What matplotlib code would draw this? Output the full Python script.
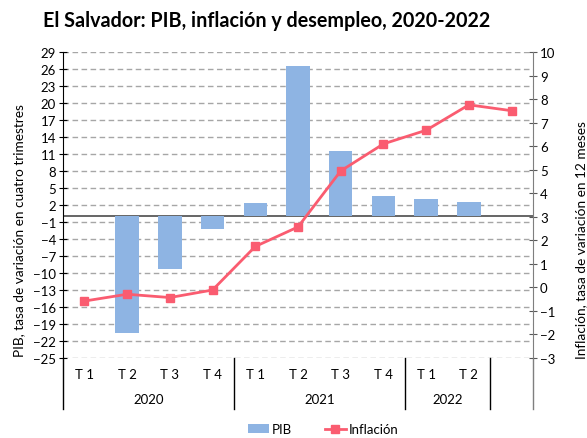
import numpy as np
import matplotlib.pyplot as plt
import matplotlib.transforms as mtransforms

plt.rcParams['font.family'] = ['Lato', 'DejaVu Sans']

# Datos
trimestres = ['T 1', 'T 2', 'T 3', 'T 4', 'T 1', 'T 2', 'T 3', 'T 4', 'T 1', 'T 2', '']
anios = ['2020', '2021', '2022']
grupos = [(0, 3), (4, 7), (8, 9)]
pib = [0.0, -20.5, -9.2, -2.2, 2.4, 26.6, 11.6, 3.6, 3.0, 2.5, np.nan]
inflacion = [-0.58, -0.29, -0.43, -0.11, 1.74, 2.57, 4.95, 6.10, 6.68, 7.76, 7.51]

x = np.arange(len(trimestres))

fig = plt.figure(figsize=(5.87, 4.39), dpi=100)
ax = fig.add_axes([0.1073, 0.1822, 0.8007, 0.6968])
ax2 = ax.twinx()

# Rejilla y linea de cero
ax.set_ylim(-25, 29)
ax.set_yticks(np.arange(-25, 30, 3))
for v in np.arange(-25, 30, 3):
    ax.axhline(v, color='#A6A6A6', lw=1, ls=(0, (4, 2.5)), zorder=0)
ax.axhline(0, color='#595959', lw=1.3, zorder=1)

ax.bar(x, pib, width=0.55, color='#8EB4E3', lw=0, zorder=2, label='PIB')

ax2.set_ylim(-3, 10)
ax2.set_yticks(np.arange(-3, 11, 1))
ax2.plot(x, inflacion, color='#FA5C70', lw=2, marker='s', ms=5.5, zorder=3, label='Inflación')

ax.set_xlim(-0.5, len(trimestres) - 0.5)
ax.set_xticks([])

for a in (ax, ax2):
    a.spines['top'].set_visible(False)
    a.spines['bottom'].set_visible(False)
ax.spines['right'].set_visible(False)
ax2.spines['left'].set_visible(False)
ax.spines['left'].set_color('black')
ax2.spines['right'].set_color('#7F7F7F')
ax.tick_params(axis='y', direction='inout', length=6, labelsize=9.5, pad=2, color='black')
ax2.tick_params(axis='y', direction='inout', length=6, labelsize=9.5, pad=2, color='#595959')

ax.set_ylabel('PIB, tasa de variación en cuatro trimestres', fontsize=9.8)
ax.yaxis.set_label_coords(-0.081, 0.42)
ax2.set_ylabel('Inflación, tasa de variación en 12 meses', fontsize=9.8)
ax2.yaxis.set_label_coords(1.089, 0.39)

# Etiquetas del eje de categorias
trans = mtransforms.blended_transform_factory(ax.transData, ax.transAxes)
for i, t in enumerate(trimestres):
    ax.text(i, -0.052, t, transform=trans, ha='center', va='center', fontsize=9.5)
for (a, b), anio in zip(grupos, anios):
    ax.text((a + b) / 2, -0.134, anio, transform=trans, ha='center', va='center', fontsize=9.5)
for s in [-0.5, 3.5, 7.5, 9.5, 10.5]:
    col = '#7F7F7F' if s == 10.5 else 'black'
    ax.plot([s, s], [0, -0.167], transform=trans, color=col, lw=1, clip_on=False)

fig.suptitle('El Salvador: PIB, inflación y desempleo, 2020-2022', fontsize=14.2,
             fontweight='bold', x=0.455, y=0.975)

h1, l1 = ax.get_legend_handles_labels()
h2, l2 = ax2.get_legend_handles_labels()
fig.legend(h1 + h2, l1 + l2, loc='center', bbox_to_anchor=(0.55, 0.02), ncol=2,
           frameon=False, fontsize=9.5, handlelength=1.6, columnspacing=2.5, handletextpad=0.2)

fig.savefig('out.png', dpi=100)
